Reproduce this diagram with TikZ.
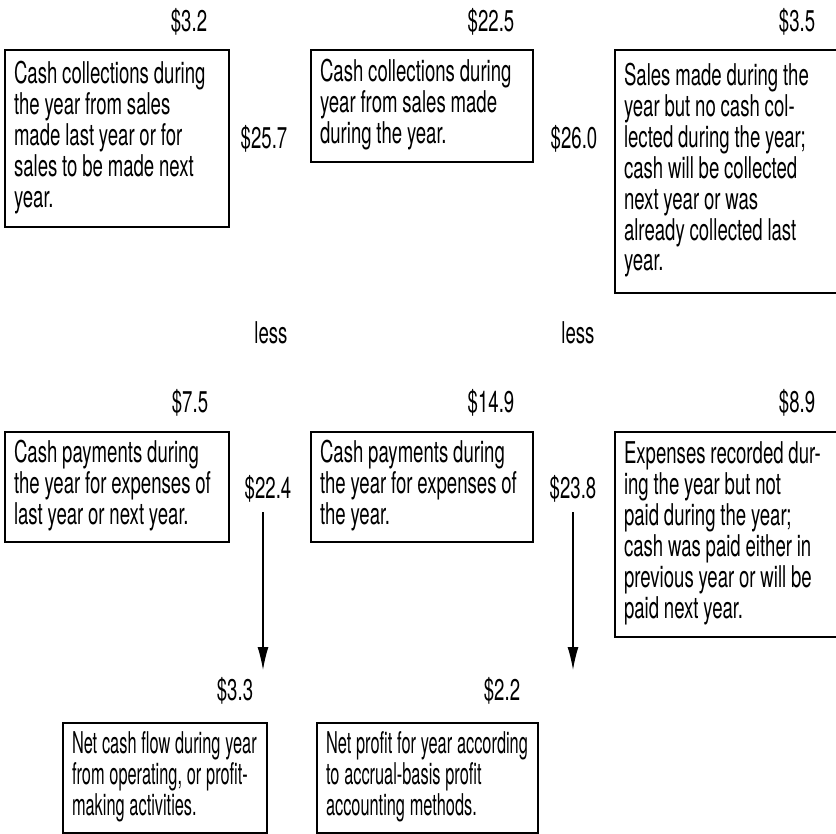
\documentclass[tikz,border=0pt]{standalone}
\usepackage{fontspec}
\setmainfont{TeX Gyre Heros}[FakeStretch=0.62]
\newfontfamily\narrowfont{TeX Gyre Heros}[FakeStretch=0.545]
\usetikzlibrary{arrows.meta}
\newcommand\boxfont{\fontsize{15}{15.3}\selectfont}
\newcommand\lines[1]{{\spaceskip=2.4pt plus 1pt\relax
  \begin{tabular}{@{}l@{}}#1\end{tabular}}}
\begin{document}
\begin{tikzpicture}[x=0.5pt, y=-0.5pt]
\tikzset{ >={Latex[length=11.5pt,width=5.5pt]}, inner sep=0pt, outer sep=0pt,
  txt/.style={font=\boxfont},
  note/.style={txt, draw, line width=0.75pt, anchor=north west, align=left,
               inner xsep=4.5pt, text width=103pt},
}
\useasboundingbox (0,0) rectangle (836,834);

%\draw [lightgray, dashed](0,0) grid[step=50] (836,834);

% sales row
\node [note, minimum height=88.5pt] (CL) at (5,50)
  {\lines{Cash collections during\\the year from sales\\made last year or for\\sales to be made next\\year.}};
\node [note, minimum height=56pt, text width=102pt] (CD) at (311,50)
  {\lines{Cash collections during\\year from sales made\\during the year.}};
\node [note, minimum height=121.5pt] (SN) at (615,50)
  {\lines{Sales made during the\\year but no cash col-\\lected during the year;\\cash will be collected\\next year or was\\already collected last\\year.}};

\node [txt] (s32) at (189,22) {\$3.2};
\node [txt] (s225) at (491,22) {\$22.5};
\node [txt] (s35) at (797,22) {\$3.5};
\node [txt] (s257) at (264,139) {\$25.7};
\node [txt] (s260) at (574,139) {\$26.0};

\node [txt] (less1) at (271,333) {less};
\node [txt] (less2) at (578,333) {less};

% expenses row
\node [note, minimum height=55pt] (PL) at (5,432)
  {\lines{Cash payments during\\the year for expenses of\\last year or next year.}};
\node [note, minimum height=55pt, text width=102pt] (PD) at (311,432)
  {\lines{Cash payments during\\the year for expenses of\\the year.}};
\node [note, minimum height=102.5pt] (EN) at (615,432)
  {\lines{Expenses recorded dur-\\ing the year but not\\paid during the year;\\cash was paid either in\\previous year or will be\\paid next year.}};

\node [txt] (s75) at (190,403) {\$7.5};
\node [txt] (s149) at (491,403) {\$14.9};
\node [txt] (s89) at (797,403) {\$8.9};
\node [txt] (s224) at (268,489) {\$22.4};
\node [txt] (s238) at (573,489) {\$23.8};

\coordinate (A1) at (263,512);
\coordinate (A2) at (263,670);
\coordinate (B1) at (573,512);
\coordinate (B2) at (573,670);
\draw [->, line width=0.6pt] (A1) -- (A2);
\draw [->, line width=0.6pt] (B1) -- (B2);

% results
\node [txt] (s33) at (235,691) {\$3.3};
\node [txt] (s22) at (502,691) {\$2.2};

\node [note, font=\narrowfont\boxfont, minimum height=55pt, text width=93pt] (NC) at (63,723)
  {\lines{Net cash flow during year\\from operating, or profit-\\making activities.}};
\node [note, font=\narrowfont\boxfont, minimum height=55pt, text width=101.5pt] (NP) at (317,723)
  {\lines{Net profit for year according\\to accrual-basis profit\\accounting methods.}};
\end{tikzpicture}
\end{document}
